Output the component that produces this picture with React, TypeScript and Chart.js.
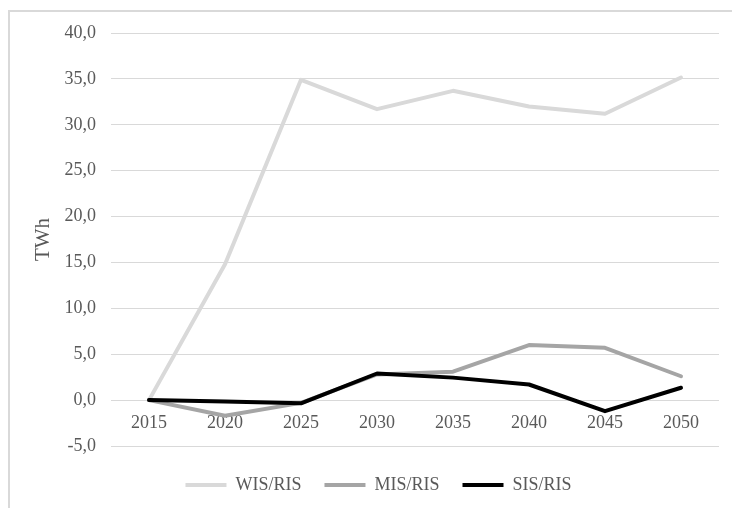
import React, { useEffect, useRef } from "react";
import { Chart, registerables } from "chart.js";

Chart.register(...registerables);

const categories = ["2015", "2020", "2025", "2030", "2035", "2040", "2045", "2050"];
const wisRis = [0, 14.8, 34.9, 31.7, 33.7, 32.0, 31.2, 35.15];
const misRis = [0, -1.7, -0.3, 2.8, 3.1, 6.0, 5.7, 2.6];
const sisRis = [0, -0.15, -0.35, 2.9, 2.45, 1.7, -1.2, 1.35];
const seriesNames = ["WIS/RIS", "MIS/RIS", "SIS/RIS"];
const yMin = -5;
const yMax = 40;
const yStep = 5;
const axisTitle = "TWh";

const FONT = "'Liberation Serif', 'Times New Roman', serif";
const TEXT = "#595959";
const GRID = "#d9d9d9";

export default function App() {
  const ref = useRef<HTMLCanvasElement | null>(null);

  useEffect(() => {
    if (!ref.current) return;
    const line = (label: string, data: number[], color: string, order: number) => ({
      label,
      data,
      borderColor: color,
      backgroundColor: color,
      borderWidth: 4,
      pointRadius: 0,
      tension: 0,
      order,
      borderJoinStyle: "round" as const,
      borderCapStyle: "round" as const,
    });
    const chart = new Chart(ref.current, {
      type: "line",
      data: {
        labels: categories,
        datasets: [
          line(seriesNames[0], wisRis, "#d9d9d9", 2),
          line(seriesNames[1], misRis, "#a5a5a5", 1),
          line(seriesNames[2], sisRis, "#000000", 0),
        ],
      },
      options: {
        responsive: false,
        animation: false,
        devicePixelRatio: 1,
        layout: { padding: { top: 33, right: 13, bottom: 4, left: 38 } },
        plugins: {
          tooltip: { enabled: false },
          legend: {
            position: "bottom",
            title: { display: true, text: "", padding: 0, font: { size: 7, lineHeight: 1 } },
            labels: {
              boxWidth: 41,
              boxHeight: 4,
              padding: 23,
              color: TEXT,
              font: { family: FONT, size: 18 },
              generateLabels: (c: any) => {
                const items = (Chart.defaults.plugins.legend.labels as any).generateLabels(c);
                return items
                  .map((it: any) => ({ ...it, lineWidth: 0, fillStyle: it.strokeStyle }))
                  .sort((a: any, b: any) => a.datasetIndex - b.datasetIndex);
              },
            },
          },
        },
        scales: {
          y: {
            min: yMin,
            max: yMax,
            ticks: {
              stepSize: yStep,
              padding: 15,
              color: TEXT,
              font: { family: FONT, size: 18 },
              callback: (v: any) => Number(v).toFixed(1).replace(".", ","),
            },
            grid: { color: GRID, lineWidth: 1, drawTicks: false },
            border: { display: false },
            title: {
              display: true,
              text: axisTitle,
              color: TEXT,
              font: { family: FONT, size: 21, lineHeight: 1 },
              padding: { top: -5.5, bottom: 0 },
            },
            afterFit: (s: any) => {
              s.width = 73;
            },
          },
          x: {
            type: "category",
            offset: true,
            position: { y: 0 } as any,
            grid: { display: false, drawTicks: false },
            border: { display: false },
            ticks: {
              padding: 12,
              color: TEXT,
              font: { family: FONT, size: 18 },
              maxRotation: 0,
              autoSkip: false,
            },
          },
        },
      },
    });
    return () => chart.destroy();
  }, []);

  return (
    <div style={{ position: "fixed", left: 0, top: 0, width: 732, height: 508, background: "#fff", overflow: "hidden" }}>
      <div
        style={{
          position: "absolute",
          left: 8,
          top: 10,
          width: 800,
          height: 600,
          borderTop: "2px solid #d9d9d9",
          borderLeft: "2px solid #d9d9d9",
        }}
      />
      <canvas ref={ref} width={732} height={508} style={{ position: "absolute", left: 0, top: 0 }} />
    </div>
  );
}
